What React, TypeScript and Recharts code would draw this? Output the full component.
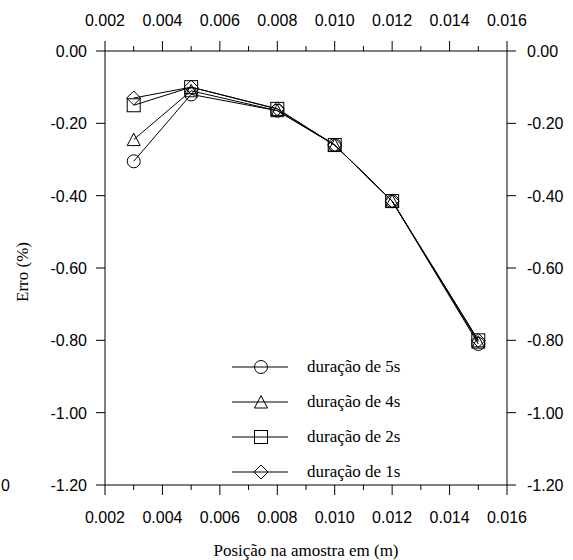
import { LineChart, Line, XAxis, YAxis, Legend } from "recharts";

// posição na amostra (m)
const posicao = [0.003, 0.005, 0.008, 0.01, 0.012, 0.015];

// erro (%) por duração
const duracao5s = [-0.305, -0.12, -0.165, -0.26, -0.415, -0.81];
const duracao4s = [-0.245, -0.11, -0.165, -0.26, -0.415, -0.805];
const duracao2s = [-0.15, -0.1, -0.16, -0.26, -0.415, -0.8];
const duracao1s = [-0.13, -0.1, -0.16, -0.26, -0.415, -0.8];

const xTicks = [
  0.002, 0.003, 0.004, 0.005, 0.006, 0.007, 0.008, 0.009, 0.01, 0.011, 0.012,
  0.013, 0.014, 0.015, 0.016,
];
const yTicks = [0, -0.2, -0.4, -0.6, -0.8, -1.0, -1.2];

type Shape = "circle" | "triangle" | "square" | "diamond";

const series: { key: string; name: string; shape: Shape }[] = [
  { key: "d5", name: "duração de 5s", shape: "circle" },
  { key: "d4", name: "duração de 4s", shape: "triangle" },
  { key: "d2", name: "duração de 2s", shape: "square" },
  { key: "d1", name: "duração de 1s", shape: "diamond" },
];

const data = posicao.map((x, i) => ({
  x,
  d5: duracao5s[i],
  d4: duracao4s[i],
  d2: duracao2s[i],
  d1: duracao1s[i],
}));

const SANS = '"Liberation Sans", Arial, sans-serif';
const SERIF = '"Liberation Serif", "Times New Roman", serif';

function Marker({ shape, cx, cy }: { shape: Shape; cx: number; cy: number }) {
  const common = { fill: "none", stroke: "#000", strokeWidth: 1 };
  if (shape === "circle") return <circle cx={cx} cy={cy} r={6.5} {...common} />;
  if (shape === "triangle")
    return (
      <polygon
        points={`${cx},${cy - 6.5} ${cx - 6.5},${cy + 6} ${cx + 6.5},${cy + 6}`}
        {...common}
      />
    );
  if (shape === "square")
    return <rect x={cx - 6.5} y={cy - 6.5} width={13} height={13} {...common} />;
  return (
    <polygon
      points={`${cx},${cy - 7} ${cx + 7},${cy} ${cx},${cy + 7} ${cx - 7},${cy}`}
      {...common}
    />
  );
}

const XTick = (props: any) => {
  const { x, y, payload, top } = props;
  const major = Math.round(payload.value * 1000) % 2 === 0;
  const dir = top ? -1 : 1;
  const len = major ? 10 : 5;
  return (
    <g>
      <line x1={x} y1={y} x2={x} y2={y + dir * len} stroke="#000" />
      {major && (
        <text
          x={x}
          y={top ? y - 25 : y + 38}
          textAnchor="middle"
          fontFamily={SANS}
          fontSize={16}
          fill="#000"
        >
          {payload.value.toFixed(3)}
        </text>
      )}
    </g>
  );
};

const YTick = (props: any) => {
  const { x, y, payload, right } = props;
  const dir = right ? 1 : -1;
  return (
    <g>
      <line x1={x} y1={y} x2={x + dir * 9} y2={y} stroke="#000" />
      <text
        x={right ? x + 20 : x - 18}
        y={y + 6}
        textAnchor={right ? "start" : "end"}
        fontFamily={SANS}
        fontSize={16}
        fill="#000"
      >
        {payload.value.toFixed(2)}
      </text>
    </g>
  );
};

const LegendBox = () => (
  <svg width={200} height={130}>
    {series.map((s, i) => {
      const y = 12 + i * 35;
      return (
        <g key={s.key}>
          <line x1={0} x2={56} y1={y} y2={y} stroke="#000" />
          <Marker shape={s.shape} cx={29} cy={y} />
          <text x={75} y={y + 5} fontFamily={SERIF} fontSize={17} fill="#000">
            {s.name}
          </text>
        </g>
      );
    })}
  </svg>
);

export default function App() {
  return (
    <div style={{ position: "fixed", left: 0, top: 0, width: 573, height: 560, background: "#fff" }}>
      <LineChart
        width={573}
        height={560}
        data={data}
        margin={{ top: 0, right: 0, bottom: 0, left: 0 }}
      >
        <XAxis
          xAxisId="bottom"
          dataKey="x"
          type="number"
          domain={[0.002, 0.016]}
          allowDataOverflow
          ticks={xTicks}
          interval={0}
          height={75}
          tickSize={0}
          tickMargin={0}
          tickLine={false}
          axisLine={{ stroke: "#000" }}
          tick={<XTick />}
          label={(p: any) => {
            const vb = p.viewBox;
            return (
              <text
                x={vb.x + vb.width / 2}
                y={vb.y + 71}
                textAnchor="middle"
                fontFamily={SERIF}
                fontSize={17}
                fill="#000"
              >
                Posição na amostra em (m)
              </text>
            );
          }}
        />
        <XAxis
          xAxisId="top"
          orientation="top"
          dataKey="x"
          type="number"
          domain={[0.002, 0.016]}
          allowDataOverflow
          ticks={xTicks}
          interval={0}
          height={51}
          tickSize={0}
          tickMargin={0}
          tickLine={false}
          axisLine={{ stroke: "#000" }}
          tick={<XTick top />}
        />
        <YAxis
          yAxisId="left"
          type="number"
          domain={[-1.2, 0]}
          allowDataOverflow
          ticks={yTicks}
          interval={0}
          width={105}
          tickSize={0}
          tickMargin={0}
          tickLine={false}
          axisLine={{ stroke: "#000" }}
          tick={<YTick />}
          label={() => (
            <g>
              <text
                transform="translate(28,272) rotate(-90)"
                textAnchor="middle"
                fontFamily={SERIF}
                fontSize={17}
                fill="#000"
              >
                Erro (%)
              </text>
              <text x={1} y={491} textAnchor="start" fontFamily={SANS} fontSize={16} fill="#000">
                0
              </text>
            </g>
          )}
        />
        <YAxis
          yAxisId="right"
          orientation="right"
          type="number"
          domain={[-1.2, 0]}
          allowDataOverflow
          ticks={yTicks}
          interval={0}
          width={66}
          tickSize={0}
          tickMargin={0}
          tickLine={false}
          axisLine={{ stroke: "#000" }}
          tick={<YTick right />}
        />
        <Legend
          layout="vertical"
          align="center"
          verticalAlign="middle"
          wrapperStyle={{ left: 232, top: 355, width: 200 }}
          content={() => <LegendBox />}
        />
        {series.map((s) => (
          <Line
            key={s.key}
            xAxisId="bottom"
            yAxisId="left"
            type="linear"
            dataKey={s.key}
            name={s.name}
            stroke="#000"
            strokeWidth={1}
            isAnimationActive={false}
            dot={(p: any) => (
              <Marker key={`${s.key}-${p.index}`} shape={s.shape} cx={p.cx} cy={p.cy} />
            )}
            activeDot={false}
          />
        ))}
      </LineChart>
    </div>
  );
}
